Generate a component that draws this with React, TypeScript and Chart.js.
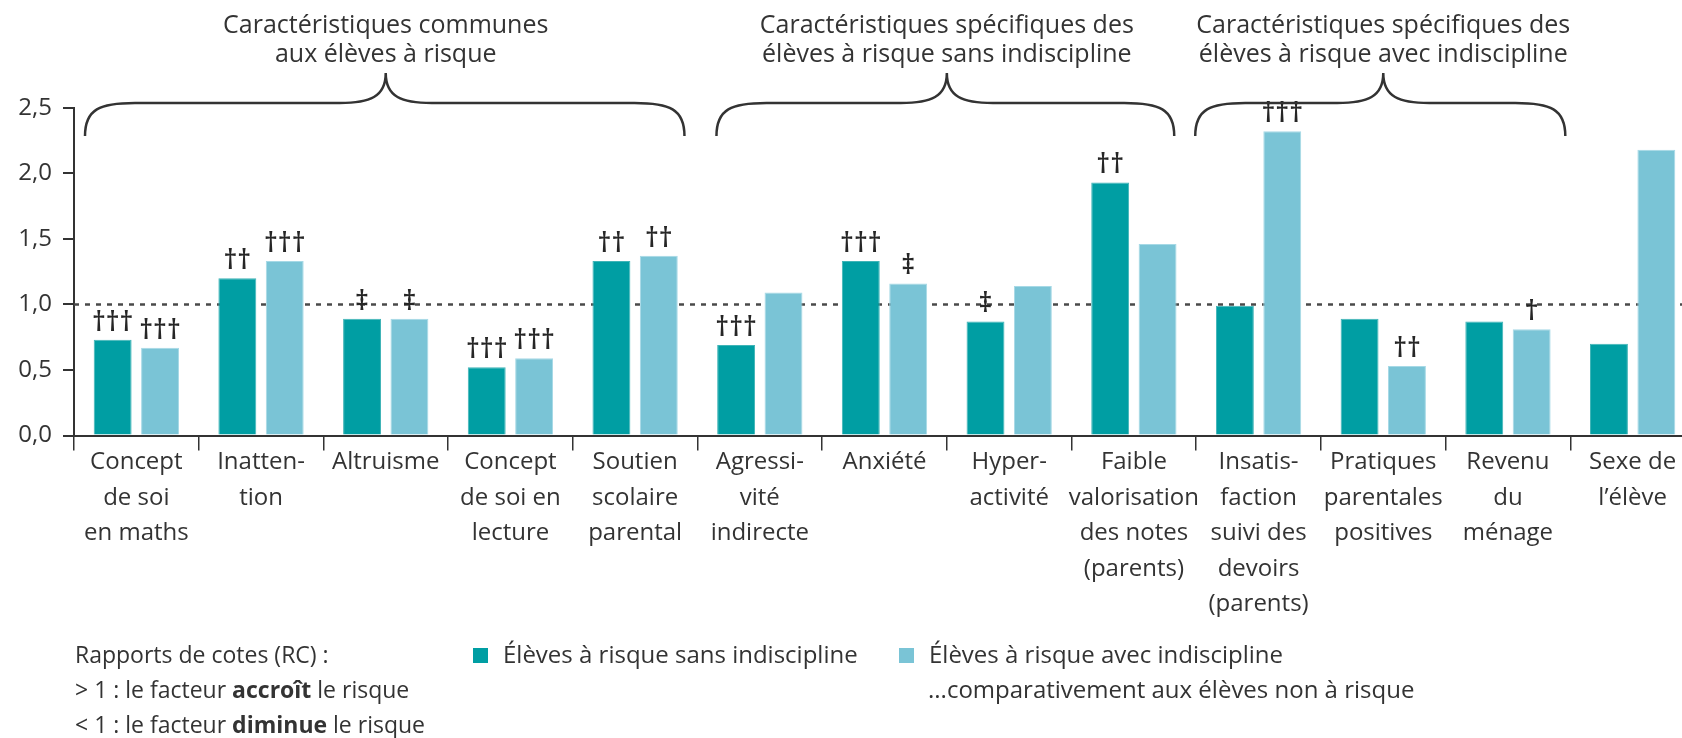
import React, { useEffect, useRef } from "react";
import { Chart, registerables } from "chart.js";

Chart.register(...registerables);

// ---------- data ----------
const categories: string[][] = [
  ["Concept", "de soi", "en maths"],
  ["Inatten-", "tion"],
  ["Altruisme"],
  ["Concept", "de soi en", "lecture"],
  ["Soutien", "scolaire", "parental"],
  ["Agressi-", "vité", "indirecte"],
  ["Anxiété"],
  ["Hyper-", "activité"],
  ["Faible", "valorisation", "des notes", "(parents)"],
  ["Insatis-", "faction", "suivi des", "devoirs", "(parents)"],
  ["Pratiques", "parentales", "positives"],
  ["Revenu", "du", "ménage"],
  ["Sexe de", "l’élève"],
];

const seriesNames = [
  "Élèves à risque sans indiscipline",
  "Élèves à risque avec indiscipline",
];

const valuesSansIndiscipline = [0.73, 1.2, 0.89, 0.52, 1.33, 0.69, 1.33, 0.87, 1.93, 0.99, 0.89, 0.87, 0.7];
const valuesAvecIndiscipline = [0.67, 1.33, 0.89, 0.59, 1.37, 1.09, 1.16, 1.14, 1.46, 2.32, 0.53, 0.81, 2.18];

const marksSans = ["†††", "††", "‡", "†††", "††", "†††", "†††", "‡", "††", "", "", "", ""];
const marksAvec = ["†††", "†††", "‡", "†††", "††", "", "‡", "", "", "†††", "††", "†", ""];

const yTicks = [0, 0.5, 1, 1.5, 2, 2.5];
const referenceValue = 1;

const groupTitles: string[][] = [
  ["Caractéristiques communes", "aux élèves à risque"],
  ["Caractéristiques spécifiques des", "élèves à risque sans indiscipline"],
  ["Caractéristiques spécifiques des", "élèves à risque avec indiscipline"],
];
const groupRanges: number[][] = [
  [0, 4],
  [5, 8],
  [9, 11],
];

const noteTitle = "Rapports de cotes (RC) :";
const noteLines: string[][] = [
  ["> 1 : le facteur ", "accroît", " le risque"],
  ["< 1 : le facteur ", "diminue", " le risque"],
];
const comparisonNote = "...comparativement aux élèves non à risque";

// ---------- styles ----------
const FONT = "'Open Sans', sans-serif";
const TEXT = "#333333";
const DARK = "#009EA3";
const LIGHT = "#7AC4D6";

function drawBrace(ctx: CanvasRenderingContext2D, x0: number, x1: number, xm: number, yTip: number, yH: number, yEnd: number) {
  const r = 50;
  const t = 46;
  ctx.beginPath();
  ctx.moveTo(x0, yEnd);
  ctx.bezierCurveTo(x0, yH + 6, x0 + r * 0.3, yH, x0 + r, yH);
  ctx.lineTo(xm - t, yH);
  ctx.bezierCurveTo(xm - t * 0.35, yH, xm, yH - 6, xm, yTip);
  ctx.bezierCurveTo(xm, yH - 6, xm + t * 0.35, yH, xm + t, yH);
  ctx.lineTo(x1 - r, yH);
  ctx.bezierCurveTo(x1 - r * 0.3, yH, x1, yH + 6, x1, yEnd);
  ctx.stroke();
}

const overlayPlugin = {
  id: "overlay",
  beforeDatasetsDraw(chart: any) {
    const { ctx, chartArea, scales } = chart;
    const y = scales.y.getPixelForValue(referenceValue);
    ctx.save();
    ctx.strokeStyle = "#4a4a4a";
    ctx.lineWidth = 2.5;
    ctx.setLineDash([5, 6]);
    ctx.beginPath();
    ctx.moveTo(chartArea.left, y);
    ctx.lineTo(chartArea.right, y);
    ctx.stroke();
    ctx.restore();
  },
  afterDatasetsDraw(chart: any) {
    const ctx: CanvasRenderingContext2D = chart.ctx;
    // significance marks
    ctx.save();
    ctx.font = `600 27px ${FONT}`;
    ctx.fillStyle = "#262626";
    ctx.textAlign = "center";
    ctx.textBaseline = "alphabetic";
    [marksSans, marksAvec].forEach((marks, di) => {
      const meta = chart.getDatasetMeta(di);
      meta.data.forEach((bar: any, i: number) => {
        const m = marks[i];
        if (!m) return;
        ctx.fillText(m, bar.x, bar.y - 9);
      });
    });
    ctx.restore();
  },
  afterDraw(chart: any) {
    const ctx: CanvasRenderingContext2D = chart.ctx;
    const xs = chart.scales.x;
    const half = (xs.getPixelForValue(1) - xs.getPixelForValue(0)) / 2;
    const insets = [
      [11, 13],
      [19, 22],
      [-1, 5],
    ];
    ctx.save();
    ctx.strokeStyle = "#333";
    ctx.lineWidth = 2.5;
    ctx.fillStyle = TEXT;
    ctx.textAlign = "center";
    ctx.textBaseline = "alphabetic";
    ctx.font = `25px ${FONT}`;
    groupRanges.forEach((rg, gi) => {
      const left = xs.getPixelForValue(rg[0]) - half;
      const right = xs.getPixelForValue(rg[1]) + half;
      const x0 = left + insets[gi][0];
      const x1 = right - insets[gi][1];
      const xm = (left + right) / 2;
      drawBrace(ctx, x0, x1, xm, 73, 103, 136);
      groupTitles[gi].forEach((line, li) => {
        ctx.fillText(line, xm, 33 + li * 29);
      });
    });

    // notes / legend
    ctx.textAlign = "left";
    ctx.font = `23px ${FONT}`;
    ctx.fillText(noteTitle, 75, 663);
    noteLines.forEach((parts, li) => {
      let x = 75;
      const y = 698 + li * 35;
      parts.forEach((p, pi) => {
        ctx.font = pi === 1 ? `bold 23px ${FONT}` : `23px ${FONT}`;
        ctx.fillText(p, x, y);
        x += ctx.measureText(p).width;
      });
    });
    ctx.font = `24px ${FONT}`;
    const legendX = [473, 899];
    const colors = [DARK, LIGHT];
    seriesNames.forEach((name, i) => {
      ctx.fillStyle = colors[i];
      ctx.fillRect(legendX[i], 648, 15, 15);
      ctx.fillStyle = TEXT;
      ctx.fillText(name, legendX[i] + 30, 663);
    });
    ctx.fillText(comparisonNote, 928, 698);
    ctx.restore();
  },
};

export default function App() {
  const canvasRef = useRef<HTMLCanvasElement | null>(null);

  useEffect(() => {
    if (!canvasRef.current) return;
    const chart = new Chart(canvasRef.current, {
      type: "bar",
      data: {
        labels: categories,
        datasets: [
          {
            label: seriesNames[0],
            data: valuesSansIndiscipline,
            backgroundColor: DARK,
            borderColor: "#3FB4B7",
            borderWidth: 1,
            categoryPercentage: 0.76,
            barPercentage: 0.8,
          },
          {
            label: seriesNames[1],
            data: valuesAvecIndiscipline,
            backgroundColor: LIGHT,
            borderColor: "#A6D9E6",
            borderWidth: 1,
            categoryPercentage: 0.76,
            barPercentage: 0.8,
          },
        ],
      },
      options: {
        animation: false,
        responsive: false,
        devicePixelRatio: 1,
        layout: { padding: { top: 107.7, right: 25, left: 0, bottom: 0 } },
        plugins: {
          legend: { display: false },
          tooltip: { enabled: false },
        },
        scales: {
          x: {
            offset: true,
            grid: {
              display: true,
              drawOnChartArea: false,
              drawTicks: true,
              tickLength: 15,
              color: "#333",
              lineWidth: 1.5,
              offset: true,
            },
            border: { display: true, color: "#333", width: 2 },
            ticks: {
              autoSkip: false,
              maxRotation: 0,
              minRotation: 0,
              padding: -6,
              color: TEXT,
              font: { family: FONT, size: 24, lineHeight: "35.5px" },
            },
            afterFit: (s: any) => {
              s.height = 302.5;
            },
          },
          y: {
            min: 0,
            max: 2.5,
            afterBuildTicks: (s: any) => {
              s.ticks = yTicks.map((v) => ({ value: v }));
            },
            ticks: {
              padding: 11,
              color: TEXT,
              font: { family: FONT, size: 24 },
              callback: (v: any) => Number(v).toFixed(1).replace(".", ","),
            },
            grid: {
              drawOnChartArea: false,
              drawTicks: true,
              tickLength: 11,
              color: "#333",
              lineWidth: 2,
            },
            border: { display: true, color: "#333", width: 2 },
            afterFit: (s: any) => {
              s.width = 74;
            },
          },
        },
      },
      plugins: [overlayPlugin],
    });
    return () => chart.destroy();
  }, []);

  return (
    <div
      style={{
        position: "absolute",
        left: 0,
        top: 0,
        width: 1682,
        height: 738,
        overflow: "hidden",
        background: "#fff",
      }}
    >
      <canvas ref={canvasRef} width={1720} height={738} style={{ display: "block" }} />
    </div>
  );
}
